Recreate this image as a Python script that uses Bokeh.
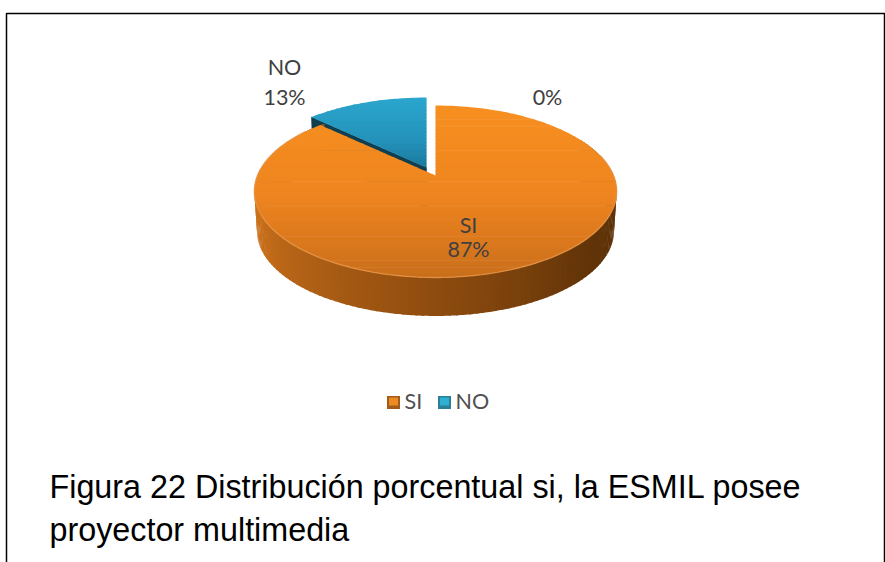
import math
from bokeh.plotting import figure
from bokeh.models import Range1d
from bokeh.core.properties import value
from bokeh.embed import file_html
from bokeh.resources import INLINE

categories = ["SI", "NO", ""]
percent = [87, 13, 0]
legend_names = ["SI", "NO"]
caption_lines = ["Figura 22 Distribución porcentual si, la ESMIL posee",
                 "proyector multimedia"]

W, H = 885, 562
CX, CY, BX, BY, K, DEPTH = 435.0, 175.0, 178.0, 83.0, 0.186, 40.0


def proj(theta, off=(0, 0), scale=1.0, dy=0.0):
    u, v = math.sin(theta), math.cos(theta)
    d = 1 + K * v
    return (CX + off[0] + scale * BX * u / d, CY + off[1] + dy - scale * BY * v / d)


def arc(a0, a1, off=(0, 0), scale=1.0, dy=0.0, n=160):
    return [proj(a0 + (a1 - a0) * i / n, off, scale, dy) for i in range(n + 1)]


def clip_y(poly, y0, y1):
    def clip(pts, inside, cross):
        out = []
        for i, p in enumerate(pts):
            q = pts[(i + 1) % len(pts)]
            if inside(p):
                out.append(p)
            if inside(p) != inside(q):
                out.append(cross(p, q))
        return out

    def at(y):
        return lambda p, q: (p[0] + (q[0] - p[0]) * (y - p[1]) / (q[1] - p[1]), y)

    pts = clip(poly, lambda p: p[1] >= y0, at(y0))
    return clip(pts, lambda p: p[1] <= y1, at(y1)) if pts else []


def mix(stops, t):
    t = max(0.0, min(1.0, t))
    for (t0, c0), (t1, c1) in zip(stops, stops[1:]):
        if t <= t1:
            f = (t - t0) / (t1 - t0)
            return "#%02x%02x%02x" % tuple(round(a + (b - a) * f) for a, b in zip(c0, c1))
    return "#%02x%02x%02x" % stops[-1][1]


def gradient_face(p, poly, stops, bands=50):
    ys = [q[1] for q in poly]
    y0, y1 = min(ys), max(ys)
    h = (y1 - y0) / bands
    for i in range(bands):
        piece = clip_y(poly, y0 + i * h, y0 + (i + 1) * h + 0.6)
        if len(piece) >= 3:
            c = mix(stops, (i + 0.5) / bands)
            p.patch([q[0] for q in piece], [q[1] for q in piece], fill_color=c, line_color=None)


p = figure(width=W, height=H, x_range=Range1d(0, W), y_range=Range1d(H, 0),
           x_axis_type=None, y_axis_type=None, output_backend="svg", toolbar_location=None,
           min_border=0, outline_line_color=None, background_fill_color="white")
p.grid.visible = False

# frame
p.line([6, 6, 884, 884], [H, 13, 13, H], line_color="#000000", line_width=1.5)

# slice angles from the values
total = sum(percent)
angles, a = [], 0.0
for v in percent:
    angles.append((a, a + 2 * math.pi * v / total))
    a += 2 * math.pi * v / total
si, no = angles[0], angles[1]

# NO slice: exploded, drawn first
off_no = (-9, -8)
apex_no = (CX + off_no[0], CY + off_no[1])
top = arc(no[0], no[1], off_no, n=50)
low = arc(no[0], no[1], off_no, 0.985, DEPTH, n=50)
apex_low = (apex_no[0], apex_no[1] + DEPTH)
side = [apex_no] + [top[0]] + [low[0]] + [apex_low]
p.patch([q[0] for q in side], [q[1] for q in side], fill_color="#0f3f50", line_color="#0f3f50", line_width=0.5)
gradient_face(p, [apex_no] + top,
              [(0, (0x2b, 0xa6, 0xcd)), (0.6, (0x24, 0x93, 0xbb)), (1, (0x1b, 0x79, 0x9d))])

# SI slice: rim
side_stops = [(0.0, (0xa0, 0x58, 0x14)), (0.25, (0xcc, 0x72, 0x1c)), (0.5, (0x96, 0x50, 0x10)),
              (0.72, (0x62, 0x34, 0x08)), (0.9, (0x5a, 0x30, 0x08)), (1.0, (0x90, 0x50, 0x12))]
N = 140
start, stop = math.pi * 1.75, math.pi * 0.35
for i in range(N):
    th0 = start + (stop - start) * i / N
    th1 = start + (stop - start) * (i + 1.3) / N
    up = arc(th0, th1, n=3)
    dn = arc(th1, th0, scale=0.985, dy=DEPTH, n=3)
    c = mix(side_stops, i / N)
    p.patch([q[0] for q in up + dn], [q[1] for q in up + dn], fill_color=c, line_color=None)

# SI slice: top face
gradient_face(p, [(CX, CY)] + arc(si[0], si[1]),
              [(0, (0xf7, 0x8f, 0x20)), (0.5, (0xef, 0x85, 0x1f)), (0.8, (0xdb, 0x78, 0x1d)), (1, (0xc8, 0x6e, 0x1b))])
rim = arc(math.pi * 0.42, math.pi * 1.7)
p.line([q[0] for q in rim], [q[1] for q in rim], line_color="#e79344", line_width=1.4, line_alpha=0.8)

# data labels
FONT = "Lato"
INK = "#404040"
label_pos = [(468, 224, 248), (284, 66, 96), (547, 0, 96)]
for cat, v, (x, y0, y1) in zip(categories, percent, label_pos):
    if cat:
        p.text([x], [y0], text=[cat], text_font=value(FONT), text_font_size="21.5px",
               text_color=INK, text_align="center", text_baseline="middle")
    p.text([x], [y1], text=[f"{v}%"], text_font=value(FONT), text_font_size="21.5px",
           text_color=INK, text_align="center", text_baseline="middle")

# legend
leg_sq = [(393, "#a05c18", "#ee8a24"), (444, "#2b7f98", "#2fb0d2")]
leg_txt = [404, 455]
for name, (sx, outer, inner), tx in zip(legend_names, leg_sq, leg_txt):
    p.rect([sx], [402], width=13, height=13, fill_color=outer, line_color=None)
    p.rect([sx], [401], width=9, height=8, fill_color=inner, line_color=None)
    p.text([tx], [400], text=[name], text_font=value(FONT), text_font_size="21.5px",
           text_color="#505050", text_align="left", text_baseline="middle")

# caption
for line, y in zip(caption_lines, [486, 529]):
    p.text([49], [y], text=[line], text_font=value("Liberation Sans"), text_font_size="32.3px",
           text_color="#000000", text_align="left", text_baseline="middle")

open("out.html", "w").write(file_html(p, INLINE))
